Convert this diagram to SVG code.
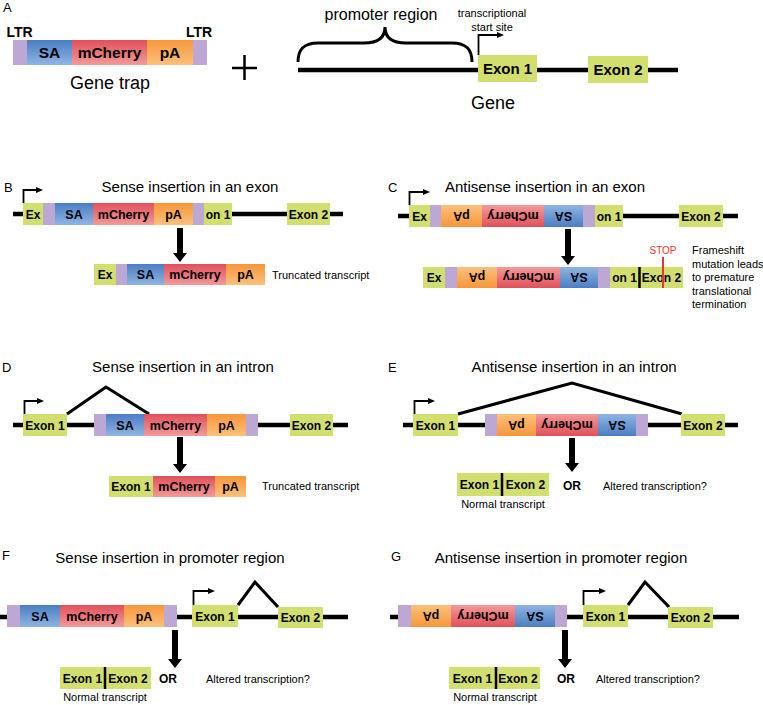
<svg xmlns="http://www.w3.org/2000/svg" width="763" height="705" viewBox="0 0 763 705">
<defs>
<style>
text{font-family:"Liberation Sans",Arial,sans-serif;fill:#000}
.lab{font-weight:bold;font-size:12.5px;text-anchor:middle}
.ex{font-weight:bold;font-size:12px;text-anchor:middle}
.big{font-weight:bold;font-size:15.5px;text-anchor:middle}
.title{font-size:15px;text-anchor:middle}
.sm{font-size:11px}
.pl{font-size:13px}
.gr{fill:#d2df6e}
.pu{fill:#bca7d5}
.bl{fill:url(#gB)}
.rd{fill:url(#gR)}
.or{fill:url(#gO)}
.blr{fill:url(#gBr)}
.rdr{fill:url(#gRr)}
.orr{fill:url(#gOr)}
.dna{stroke:#000;stroke-width:4.5;fill:none}
.spl{stroke:#000;stroke-width:3;fill:none;stroke-linejoin:miter}
.tss{stroke:#000;stroke-width:1.8;fill:none;marker-end:url(#ah)}
.arr{fill:#000}
</style>
<linearGradient id="gB" x1="0" y1="0" x2="0" y2="1"><stop offset="0" stop-color="#4a7dc2"/><stop offset="1" stop-color="#8fb5e3"/></linearGradient>
<linearGradient id="gR" x1="0" y1="0" x2="0" y2="1"><stop offset="0" stop-color="#e1505a"/><stop offset="1" stop-color="#f29a9a"/></linearGradient>
<linearGradient id="gO" x1="0" y1="0" x2="0" y2="1"><stop offset="0" stop-color="#f7963a"/><stop offset="1" stop-color="#fcc17c"/></linearGradient>
<linearGradient id="gBr" x1="0" y1="1" x2="0" y2="0"><stop offset="0" stop-color="#4a7dc2"/><stop offset="1" stop-color="#8fb5e3"/></linearGradient>
<linearGradient id="gRr" x1="0" y1="1" x2="0" y2="0"><stop offset="0" stop-color="#e1505a"/><stop offset="1" stop-color="#f29a9a"/></linearGradient>
<linearGradient id="gOr" x1="0" y1="1" x2="0" y2="0"><stop offset="0" stop-color="#f7963a"/><stop offset="1" stop-color="#fcc17c"/></linearGradient>
<marker id="ah" markerUnits="userSpaceOnUse" markerWidth="8" markerHeight="7" refX="1" refY="3" orient="auto"><path d="M0,0 L7,3 L0,6 Z" fill="#000"/></marker>
</defs>
<rect width="763" height="705" fill="#fff"/>

<!-- Panel A -->
<g id="panelA">
<text class="pl" x="3" y="12">A</text>
<g id="genetrap">
<text x="19.5" y="37" style="font-weight:bold;font-size:14px;text-anchor:middle">LTR</text>
<text x="199" y="37" style="font-weight:bold;font-size:14px;text-anchor:middle">LTR</text>
<rect class="pu" x="13" y="40" width="14" height="25"/>
<rect class="bl" x="27" y="40" width="45" height="25"/>
<rect class="rd" x="72" y="40" width="75" height="25"/>
<rect class="or" x="147" y="40" width="46" height="25"/>
<rect class="pu" x="193" y="40" width="14" height="25"/>
<text class="big" x="49.5" y="58">SA</text>
<text class="big" x="109.5" y="58">mCherry</text>
<text class="big" x="170" y="58">pA</text>
<text x="110" y="89" style="font-size:18px;text-anchor:middle">Gene trap</text>
</g>
<g id="plus"><path d="M232,68 H257 M244.5,55 V80" stroke="#000" stroke-width="2.5"/></g>
<g id="gene">
<text x="381" y="20" style="font-size:16px;text-anchor:middle">promoter region</text>
<path d="M298,62 C298,50 303,43 318,43 L364,43 C378,43 385,38 385,27 C385,38 392,43 406,43 L452,43 C467,43 472,50 472,62" stroke="#000" stroke-width="3" fill="none"/>
<text class="sm" x="492" y="17" text-anchor="middle">transcriptional</text>
<text class="sm" x="492" y="30.5" text-anchor="middle">start site</text>
<path class="dna" d="M298,70 H678"/>
<path class="tss" d="M478.5,55 V35 H498"/>
<rect class="gr" x="478" y="55" width="59" height="27"/>
<rect class="gr" x="588" y="56" width="60" height="27"/>
<text class="big" x="507.5" y="74" style="font-size:15px">Exon 1</text>
<text class="big" x="618" y="75" style="font-size:15px">Exon 2</text>
<text x="493" y="109" style="font-size:18px;text-anchor:middle">Gene</text>
</g>
</g>

<!-- Panel B -->
<g id="panelB">
<text class="pl" x="4" y="192">B</text>
<text class="title" x="190" y="192">Sense insertion in an exon</text>
<g id="B-gene">
<path class="dna" d="M13,214 H343"/>
<path class="tss" d="M23.5,203 V190 H37"/>
<rect class="gr" x="23" y="203" width="20" height="22"/>
<rect class="pu" x="43" y="203" width="12" height="22"/>
<rect class="bl" x="55" y="203" width="38" height="22"/>
<rect class="rd" x="93" y="203" width="61" height="22"/>
<rect class="or" x="154" y="203" width="39" height="22"/>
<rect class="pu" x="193" y="203" width="11" height="22"/>
<rect class="gr" x="204" y="203" width="28" height="22"/>
<rect class="gr" x="287" y="203" width="43" height="22"/>
<text class="ex" x="33" y="218.5">Ex</text>
<text class="lab" x="74" y="218.5">SA</text>
<text class="lab" x="123.5" y="218.5">mCherry</text>
<text class="lab" x="173.5" y="218.5">pA</text>
<text class="ex" x="218" y="218.5">on 1</text>
<text class="ex" x="308.5" y="218.5">Exon 2</text>
</g>
<g id="B-transcript">
<rect class="gr" x="94" y="264" width="22" height="21"/>
<rect class="pu" x="116" y="264" width="11" height="21"/>
<rect class="bl" x="127" y="264" width="37" height="21"/>
<rect class="rd" x="164" y="264" width="62" height="21"/>
<rect class="or" x="226" y="264" width="39" height="21"/>
<text class="ex" x="105" y="279">Ex</text>
<text class="lab" x="145.5" y="279">SA</text>
<text class="lab" x="195" y="279">mCherry</text>
<text class="lab" x="245.5" y="279">pA</text>
<text class="sm" x="272" y="278.5">Truncated transcript</text>
</g>
</g>

<!-- Panel C -->
<g id="panelC">
<text class="pl" x="388" y="192">C</text>
<text class="title" x="545" y="192">Antisense insertion in an exon</text>
<g id="C-gene">
<path class="dna" d="M398,216 H738"/>
<path class="tss" d="M409.5,205 V192 H424"/>
<rect class="gr" x="409" y="205" width="21" height="22"/>
<rect class="pu" x="430" y="205" width="11" height="22"/>
<rect class="orr" x="441" y="205" width="41" height="22"/>
<rect class="rdr" x="482" y="205" width="62" height="22"/>
<rect class="blr" x="544" y="205" width="39" height="22"/>
<rect class="pu" x="583" y="205" width="12" height="22"/>
<rect class="gr" x="595" y="205" width="28" height="22"/>
<rect class="gr" x="679" y="205" width="44" height="22"/>
<text class="ex" x="419.5" y="220.5">Ex</text>
<text class="lab" x="461.5" y="220.5" transform="rotate(180 461.5 216)">pA</text>
<text class="lab" x="513" y="220.5" transform="rotate(180 513 216)">mCherry</text>
<text class="lab" x="563.5" y="220.5" transform="rotate(180 563.5 216)">SA</text>
<text class="ex" x="609" y="220.5">on 1</text>
<text class="ex" x="701" y="220.5">Exon 2</text>
</g>
<g id="C-transcript">
<rect class="gr" x="423" y="267" width="22" height="21"/>
<rect class="pu" x="445" y="267" width="12" height="21"/>
<rect class="orr" x="457" y="267" width="40" height="21"/>
<rect class="rdr" x="497" y="267" width="63" height="21"/>
<rect class="blr" x="560" y="267" width="38" height="21"/>
<rect class="pu" x="598" y="267" width="12" height="21"/>
<rect class="gr" x="610" y="267" width="73" height="21"/>
<text class="ex" x="434" y="282">Ex</text>
<text class="lab" x="477" y="282" transform="rotate(180 477 277.5)">pA</text>
<text class="lab" x="528.5" y="282" transform="rotate(180 528.5 277.5)">mCherry</text>
<text class="lab" x="579" y="282" transform="rotate(180 579 277.5)">SA</text>
<text class="ex" x="624.5" y="282">on 1</text>
<text class="ex" x="661.5" y="282">Exon 2</text>
<path d="M639.5,267 V288" stroke="#000" stroke-width="2.5"/>
<path d="M663,257 V288" stroke="#e8352e" stroke-width="2"/>
<text x="663" y="254" style="font-size:10px;text-anchor:middle;fill:#e8352e">STOP</text>
<text class="sm" x="692" y="254">Frameshift</text>
<text class="sm" x="692" y="267.5">mutation leads</text>
<text class="sm" x="692" y="281">to premature</text>
<text class="sm" x="692" y="294.5">translational</text>
<text class="sm" x="692" y="308">termination</text>
</g>
</g>

<!-- Panel D -->
<g id="panelD">
<text class="pl" x="2" y="372">D</text>
<text class="title" x="183" y="372">Sense insertion in an intron</text>
<g id="D-gene">
<path class="dna" d="M13,425 H348"/>
<path class="tss" d="M24.5,414 V401 H38"/>
<path class="spl" d="M67,414 L106,387 L149,414"/>
<rect class="gr" x="23" y="414" width="44" height="22"/>
<rect class="pu" x="94" y="414" width="12" height="22"/>
<rect class="bl" x="106" y="414" width="38" height="22"/>
<rect class="rd" x="144" y="414" width="63" height="22"/>
<rect class="or" x="207" y="414" width="39" height="22"/>
<rect class="pu" x="246" y="414" width="12" height="22"/>
<rect class="gr" x="290" y="414" width="43" height="22"/>
<text class="ex" x="45" y="429.5">Exon 1</text>
<text class="lab" x="125" y="429.5">SA</text>
<text class="lab" x="175.5" y="429.5">mCherry</text>
<text class="lab" x="226.5" y="429.5">pA</text>
<text class="ex" x="311.5" y="429.5">Exon 2</text>
</g>
<g id="D-transcript">
<rect class="gr" x="109" y="476" width="44" height="21"/>
<rect class="rd" x="153" y="476" width="62" height="21"/>
<rect class="or" x="215" y="476" width="31" height="21"/>
<text class="ex" x="131" y="491">Exon 1</text>
<text class="lab" x="184" y="491">mCherry</text>
<text class="lab" x="230.5" y="491">pA</text>
<text class="sm" x="262" y="490">Truncated transcript</text>
</g>
</g>

<!-- Panel E -->
<g id="panelE">
<text class="pl" x="388" y="372">E</text>
<text class="title" x="574" y="372">Antisense insertion in an intron</text>
<g id="E-gene">
<path class="dna" d="M403,425 H738"/>
<path class="tss" d="M414.5,414 V401 H429"/>
<path class="spl" d="M458,414 L572,383 L682,414"/>
<rect class="gr" x="413" y="414" width="45" height="22"/>
<rect class="pu" x="485" y="414" width="12" height="22"/>
<rect class="orr" x="497" y="414" width="39" height="22"/>
<rect class="rdr" x="536" y="414" width="62" height="22"/>
<rect class="blr" x="598" y="414" width="38" height="22"/>
<rect class="pu" x="636" y="414" width="12" height="22"/>
<rect class="gr" x="681" y="414" width="44" height="22"/>
<text class="ex" x="435.5" y="429.5">Exon 1</text>
<text class="lab" x="516.5" y="429.5" transform="rotate(180 516.5 425)">pA</text>
<text class="lab" x="567" y="429.5" transform="rotate(180 567 425)">mCherry</text>
<text class="lab" x="617" y="429.5" transform="rotate(180 617 425)">SA</text>
<text class="ex" x="703" y="429.5">Exon 2</text>
</g>
<g id="E-transcript">
<rect class="gr" x="457" y="473" width="92" height="23"/>
<path d="M502,473 V496" stroke="#000" stroke-width="2.5"/>
<text class="ex" x="479.5" y="489">Exon 1</text>
<text class="ex" x="525.5" y="489">Exon 2</text>
<text x="563" y="490" style="font-weight:bold;font-size:12px">OR</text>
<text class="sm" x="603" y="490">Altered transcription?</text>
<text class="sm" x="503" y="507.5" text-anchor="middle">Normal transcript</text>
</g>
</g>

<!-- Panel F -->
<g id="panelF">
<text class="pl" x="2" y="560">F</text>
<text class="title" x="170" y="563">Sense insertion in promoter region</text>
<g id="F-gene">
<path class="dna" d="M0,617 H348"/>
<path class="tss" d="M193.5,605 V591 H209"/>
<path class="spl" d="M238,605 L255,582 L278,607"/>
<rect class="pu" x="7" y="605" width="13" height="22"/>
<rect class="bl" x="20" y="605" width="40" height="22"/>
<rect class="rd" x="60" y="605" width="64" height="22"/>
<rect class="or" x="124" y="605" width="40" height="22"/>
<rect class="pu" x="164" y="605" width="13" height="22"/>
<rect class="gr" x="192" y="605" width="46" height="22"/>
<rect class="gr" x="278" y="607" width="45" height="21"/>
<text class="lab" x="40" y="620.5">SA</text>
<text class="lab" x="92" y="620.5">mCherry</text>
<text class="lab" x="144" y="620.5">pA</text>
<text class="ex" x="215" y="620.5">Exon 1</text>
<text class="ex" x="300.5" y="622">Exon 2</text>
</g>
<g id="F-transcript">
<rect class="gr" x="60" y="667" width="91" height="22"/>
<path d="M105,667 V689" stroke="#000" stroke-width="2.5"/>
<text class="ex" x="82.5" y="682.5">Exon 1</text>
<text class="ex" x="128" y="682.5">Exon 2</text>
<text x="159" y="683" style="font-weight:bold;font-size:12px">OR</text>
<text class="sm" x="206" y="683">Altered transcription?</text>
<text class="sm" x="105" y="701" text-anchor="middle">Normal transcript</text>
</g>
</g>

<!-- Panel G -->
<g id="panelG">
<text class="pl" x="391" y="561">G</text>
<text class="title" x="561" y="563">Antisense insertion in promoter region</text>
<g id="G-gene">
<path class="dna" d="M390,617 H739"/>
<path class="tss" d="M583.5,605 V591 H600"/>
<path class="spl" d="M628,605 L645,582 L669,607"/>
<rect class="pu" x="398" y="605" width="13" height="22"/>
<rect class="orr" x="411" y="605" width="40" height="22"/>
<rect class="rdr" x="451" y="605" width="64" height="22"/>
<rect class="blr" x="515" y="605" width="40" height="22"/>
<rect class="pu" x="555" y="605" width="12" height="22"/>
<rect class="gr" x="583" y="605" width="45" height="22"/>
<rect class="gr" x="668" y="607" width="45" height="21"/>
<text class="lab" x="431" y="620.5" transform="rotate(180 431 616)">pA</text>
<text class="lab" x="483" y="620.5" transform="rotate(180 483 616)">mCherry</text>
<text class="lab" x="535" y="620.5" transform="rotate(180 535 616)">SA</text>
<text class="ex" x="605.5" y="620.5">Exon 1</text>
<text class="ex" x="690.5" y="622">Exon 2</text>
</g>
<g id="G-transcript">
<rect class="gr" x="449" y="667" width="91" height="22"/>
<path d="M496,667 V689" stroke="#000" stroke-width="2.5"/>
<text class="ex" x="472.5" y="682.5">Exon 1</text>
<text class="ex" x="518" y="682.5">Exon 2</text>
<text x="557" y="683" style="font-weight:bold;font-size:12px">OR</text>
<text class="sm" x="596" y="683">Altered transcription?</text>
<text class="sm" x="495" y="701" text-anchor="middle">Normal transcript</text>
</g>
</g>

<!-- Connectors (big arrows) -->
<g id="connectors">
<path class="arr" d="M177,228 H183 V253 H187 L180,262 L173,253 H177 Z"/>
<path class="arr" d="M565,229 H571 V256 H575 L568,265 L561,256 H565 Z"/>
<path class="arr" d="M177,437 H183 V464 H187 L180,473 L173,464 H177 Z"/>
<path class="arr" d="M569,438 H575 V463 H579 L572,472 L565,463 H569 Z"/>
<path class="arr" d="M172,630 H178 V659 H182 L175,668 L168,659 H172 Z"/>
<path class="arr" d="M562,630 H568 V659 H572 L565,668 L558,659 H562 Z"/>
</g>
</svg>
